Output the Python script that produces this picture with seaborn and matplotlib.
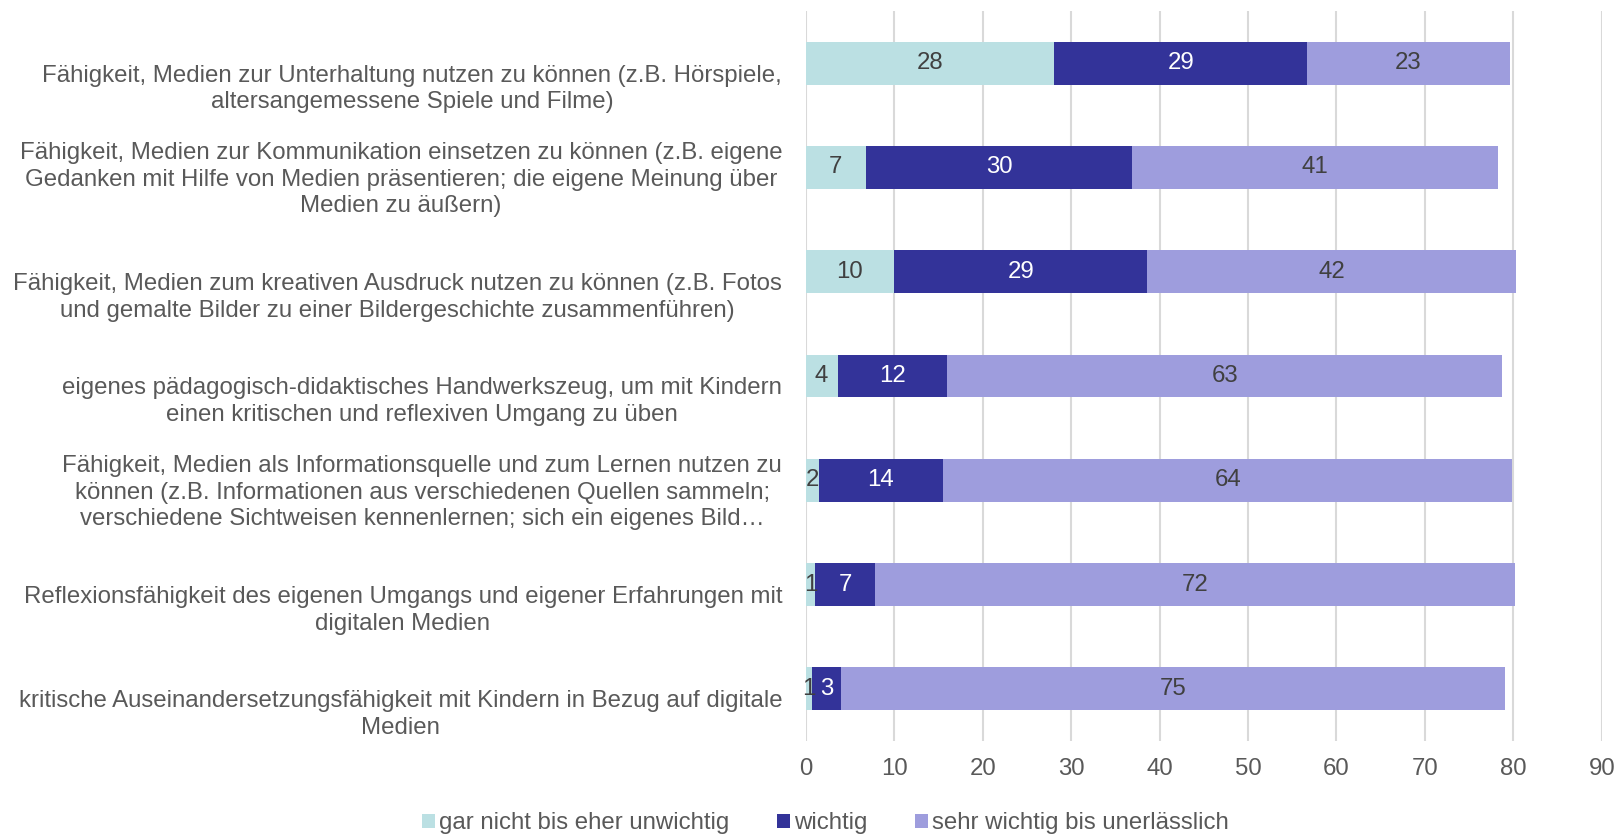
import numpy as np
import pandas as pd
import matplotlib.pyplot as plt
import seaborn as sns
from matplotlib.patches import Patch
from matplotlib.transforms import ScaledTranslation

# data (percent)
categories = [
    "Fähigkeit, Medien zur Unterhaltung nutzen zu können (z.B. Hörspiele,\naltersangemessene Spiele und Filme)",
    "Fähigkeit, Medien zur Kommunikation einsetzen zu können (z.B. eigene\nGedanken mit Hilfe von Medien präsentieren; die eigene Meinung über\nMedien zu äußern)",
    "Fähigkeit, Medien zum kreativen Ausdruck nutzen zu können (z.B. Fotos\nund gemalte Bilder zu einer Bildergeschichte zusammenführen)",
    "eigenes pädagogisch-didaktisches Handwerkszeug, um mit Kindern\neinen kritischen und reflexiven Umgang zu üben",
    "Fähigkeit, Medien als Informationsquelle und zum Lernen nutzen zu\nkönnen (z.B. Informationen aus verschiedenen Quellen sammeln;\nverschiedene Sichtweisen kennenlernen; sich ein eigenes Bild…",
    "Reflexionsfähigkeit des eigenen Umgangs und eigener Erfahrungen mit\ndigitalen Medien",
    "kritische Auseinandersetzungsfähigkeit mit Kindern in Bezug auf digitale\nMedien",
]
series_names = ["gar nicht bis eher unwichtig", "wichtig", "sehr wichtig bis unerlässlich"]
unwichtig = [28.1, 6.8, 10.0, 3.6, 1.5, 1.1, 0.7]
wichtig = [28.6, 30.1, 28.6, 12.4, 14.0, 6.7, 3.3]
unerlaesslich = [22.9, 41.4, 41.7, 62.7, 64.4, 72.4, 75.1]

colors = ["#BBE0E3", "#333399", "#9E9DDD"]
label_colors = ["#404040", "white", "#404040"]
grey = "#595959"
fs = 17.3

df = pd.DataFrame({"cat": categories, "s1": unwichtig, "s2": wichtig, "s3": unerlaesslich})
df["c1"] = df["s1"]
df["c2"] = df["s1"] + df["s2"]
df["c3"] = df["c2"] + df["s3"]

sns.set_style("white")
plt.rcParams["font.family"] = ["Liberation Sans", "DejaVu Sans"]

fig = plt.figure(figsize=(16.18, 8.35), dpi=100)
ax = fig.add_axes([0.498, 0.1126, 0.492, 0.8742])

# stacked bars: draw cumulative totals from the back to the front
for col, c in zip(["c3", "c2", "c1"], colors[::-1]):
    sns.barplot(data=df, x=col, y="cat", orient="h", color=c, width=0.41,
                linewidth=0, saturation=1, ax=ax)

# segment labels
for i, row in df.iterrows():
    left = 0
    for k, col in enumerate(["s1", "s2", "s3"]):
        v = row[col]
        ax.text(left + v / 2, i, f"{v:.0f}", ha="center", va="center",
                fontsize=fs, color=label_colors[k])
        left += v

ax.set_xlim(0, 90)
ax.set_xticks(np.arange(0, 91, 10))
ax.set_xlabel("")
ax.set_ylabel("")
ax.grid(axis="x", color="#D9D9D9", linewidth=1.5)
ax.set_axisbelow(True)
for s in ax.spines.values():
    s.set_visible(False)
ax.tick_params(axis="x", length=0, pad=12, labelsize=fs, labelcolor=grey)
ax.tick_params(axis="y", length=0, pad=17, labelsize=fs, labelcolor=grey)

# labels sit bottom-aligned below bar centre, as in the reference
off = ScaledTranslation(0, -0.50, fig.dpi_scale_trans)
for lbl in ax.get_yticklabels():
    lbl.set_multialignment("center")
    lbl.set_va("bottom")
    lbl.set_linespacing(1.27)
    lbl.set_transform(lbl.get_transform() + off)

handles = [Patch(facecolor=c, edgecolor="none", label=n) for c, n in zip(colors, series_names)]
fig.legend(handles=handles, loc="lower center", bbox_to_anchor=(0.51, -0.025), ncol=3,
           frameon=False, fontsize=fs, labelcolor=grey, handlelength=0.55,
           handleheight=0.55, handletextpad=0.15, columnspacing=2.0)

fig.savefig("out.png", dpi=100)
